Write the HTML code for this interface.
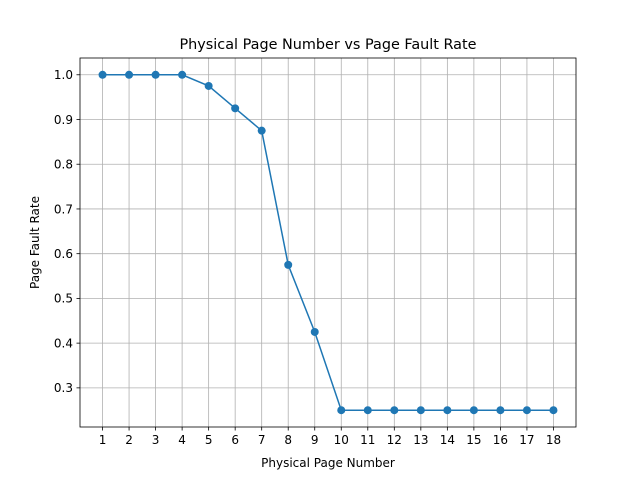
<!DOCTYPE html>
<html><head><meta charset="utf-8"><style>
body{margin:0;background:#fff;}
svg{display:block;font-family:"DejaVu Sans","Liberation Sans",sans-serif;}
</style></head><body>
<svg id="chart" width="640" height="480" xmlns="http://www.w3.org/2000/svg">
<rect width="640" height="480" fill="#fff"/>
<g id="grid"></g>
<g id="axes"></g>
<g id="series"></g>
<text x="328" y="49" text-anchor="middle" font-size="14.4">Physical Page Number vs Page Fault Rate</text>
<text x="328" y="467" text-anchor="middle" font-size="12">Physical Page Number</text>
<text x="39" y="242.5" text-anchor="middle" font-size="12" transform="rotate(-90 39 242.5)">Page Fault Rate</text>
</svg>
<script>
const categories=[1,2,3,4,5,6,7,8,9,10,11,12,13,14,15,16,17,18];
const values=[1,1,1,1,0.975,0.925,0.875,0.575,0.425,0.25,0.25,0.25,0.25,0.25,0.25,0.25,0.25,0.25];
const yTicks=[0.3,0.4,0.5,0.6,0.7,0.8,0.9,1.0];
const yTickLabels=["0.3","0.4","0.5","0.6","0.7","0.8","0.9","1.0"];

const L=80,R=576,T=58,B=427;
const xmin=Math.min(...categories),xmax=Math.max(...categories);
const xm=(xmax-xmin)*0.05;
const ymin=Math.min(...values),ymax=Math.max(...values);
const ym=(ymax-ymin)*0.05;
const xs=v=>L+(v-(xmin-xm))/((xmax+xm)-(xmin-xm))*(R-L);
const ys=v=>B-(v-(ymin-ym))/((ymax+ym)-(ymin-ym))*(B-T);
const NS="http://www.w3.org/2000/svg";
function mk(tag,attrs,parent){const e=document.createElementNS(NS,tag);for(const k in attrs)e.setAttribute(k,attrs[k]);parent.appendChild(e);return e;}
const grid=document.getElementById('grid'),axes=document.getElementById('axes'),series=document.getElementById('series');

categories.forEach(c=>{
  const x=xs(c);
  const g=mk('line',{x1:x,x2:x,y1:T,y2:B,stroke:'#b0b0b0','stroke-width':0.8},grid);
  
  
  const t=mk('line',{x1:x,x2:x,y1:B,y2:B+3.5,stroke:'#000','stroke-width':0.8},axes);
  
  
  const lb=mk('text',{x:x,y:B+17,'text-anchor':'middle','font-size':12},axes);
  lb.textContent=String(c);
  
  
});
yTicks.forEach((v,i)=>{
  const y=ys(v);
  const g=mk('line',{x1:L,x2:R,y1:y,y2:y,stroke:'#b0b0b0','stroke-width':0.8},grid);
  
  
  const t=mk('line',{x1:L-3.5,x2:L,y1:y,y2:y,stroke:'#000','stroke-width':0.8},axes);
  
  
  const lb=mk('text',{x:L-7,y:y+4.3,'text-anchor':'end','font-size':12},axes);
  lb.textContent=yTickLabels[i];
  
  
});
const frame=mk('rect',{x:L,y:T,width:R-L,height:B-T,fill:'none',stroke:'#000','stroke-width':0.8},axes);



const pts=categories.map((c,i)=>xs(c)+','+ys(values[i])).join(' ');
const line=mk('polyline',{points:pts,fill:'none',stroke:'#1f77b4','stroke-width':1.5},series);


categories.forEach((c,i)=>{
  const p=mk('circle',{cx:xs(c),cy:ys(values[i]),r:4,fill:'#1f77b4'},series);
  
  
});
</script>
</body></html>
